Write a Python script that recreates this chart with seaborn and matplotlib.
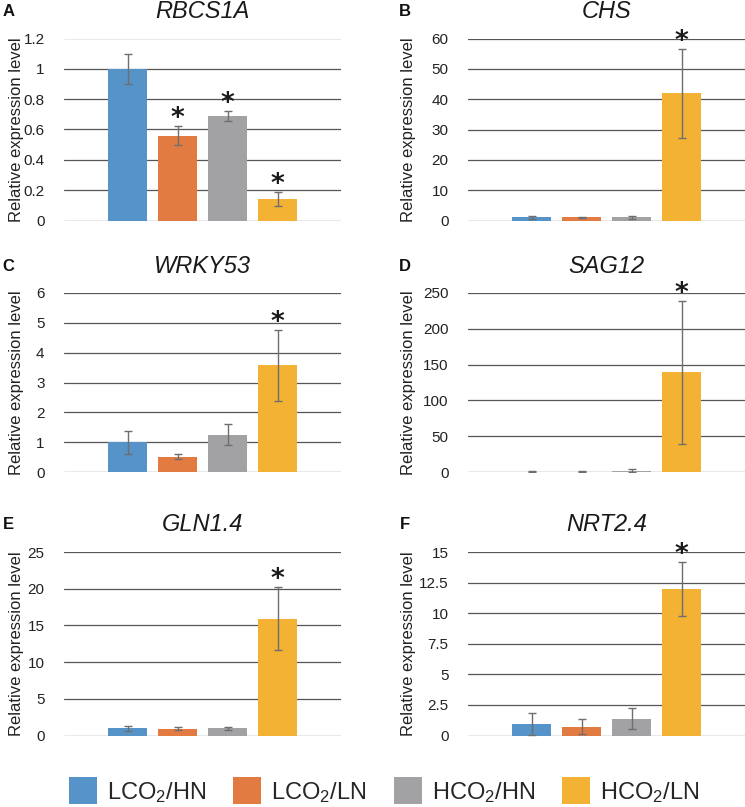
import numpy as np
import pandas as pd
import matplotlib
matplotlib.use("Agg")
import matplotlib.pyplot as plt
import seaborn as sns
from matplotlib.patches import Patch
from matplotlib.ticker import FuncFormatter, MultipleLocator

# ---------------------------------------------------------------
# Data
# ---------------------------------------------------------------
conditions = ["LCO$_2$/HN", "LCO$_2$/LN", "HCO$_2$/HN", "HCO$_2$/LN"]
colors = ["#5693C9", "#E27B42", "#A2A2A4", "#F3B234"]

genes = ["RBCS1A", "CHS", "WRKY53", "SAG12", "GLN1.4", "NRT2.4"]
letters = ["A", "B", "C", "D", "E", "F"]

rbcs1a = [1.0, 0.56, 0.69, 0.14]
rbcs1a_err = [0.10, 0.065, 0.035, 0.045]
chs = [1.0, 1.0, 1.0, 42.0]
chs_err = [0.6, 0.15, 0.5, 14.7]
wrky53 = [1.0, 0.51, 1.25, 3.57]
wrky53_err = [0.38, 0.08, 0.35, 1.18]
sag12 = [0.5, 0.5, 2.0, 139.0]
sag12_err = [0.3, 0.3, 2.2, 99.5]
gln14 = [0.96, 0.91, 0.96, 15.9]
gln14_err = [0.35, 0.2, 0.25, 4.3]
nrt24 = [0.93, 0.71, 1.37, 11.97]
nrt24_err = [0.9, 0.62, 0.85, 2.2]

values = [rbcs1a, chs, wrky53, sag12, gln14, nrt24]
errors = [rbcs1a_err, chs_err, wrky53_err, sag12_err, gln14_err, nrt24_err]

# which bars carry a significance star
stars = [
    [False, True, True, True],
    [False, False, False, True],
    [False, False, False, True],
    [False, False, False, True],
    [False, False, False, True],
    [False, False, False, True],
]

y_max = [1.2, 60, 6, 250, 25, 15]
y_step = [0.2, 10, 1, 50, 5, 2.5]

# ---------------------------------------------------------------
# Style
# ---------------------------------------------------------------
sns.set_style("white")
plt.rcParams["font.family"] = ["Liberation Sans", "DejaVu Sans"]
plt.rcParams["mathtext.default"] = "regular"

W, H = 745, 807
fig = plt.figure(figsize=(W / 100, H / 100), dpi=100)

# axes boxes in pixels: (left, top, right, bottom)
boxes = [
    (64, 38.5, 341, 220.5), (468, 38.5, 745, 220.5),
    (64, 293, 341, 472), (468, 293, 745, 472),
    (64, 552, 341, 735.5), (468, 552, 745, 735.5),
]

grid_col = "#555555"

for k in range(6):
    l, t, r, b = boxes[k]
    ax = fig.add_axes([l / W, 1 - b / H, (r - l) / W, (b - t) / H])
    df = pd.DataFrame({"cond": conditions, "val": values[k]})
    sns.barplot(data=df, x="cond", y="val", hue="cond", palette=colors,
                saturation=1, width=0.78, linewidth=0, legend=False, ax=ax,
                zorder=3)
    ax.errorbar(np.arange(4), values[k], yerr=errors[k], fmt="none",
                ecolor="#6e6e6e", elinewidth=1, capsize=3, capthick=1,
                zorder=4)

    for i in range(4):
        if stars[k][i]:
            ax.annotate("*", xy=(i, values[k][i] + errors[k][i]),
                        xytext=(0, 0), textcoords="offset points",
                        ha="center", va="baseline", fontsize=19,
                        fontweight="bold", family="DejaVu Sans",
                        color="#1a1a1a", annotation_clip=False, zorder=5)

    ax.set_xlim(-1.27, 4.27)
    ax.set_ylim(0, y_max[k])
    ax.yaxis.set_major_locator(MultipleLocator(y_step[k]))
    ax.yaxis.set_major_formatter(FuncFormatter(lambda v, p: "%g" % v))
    ax.grid(axis="y", color=grid_col, linewidth=0.9, zorder=0)
    ax.set_axisbelow(True)
    for s in ax.spines.values():
        s.set_visible(False)
    ax.set_xticks([])
    ax.set_xlabel("")
    ax.tick_params(axis="y", length=0, pad=14, labelsize=11,
                   labelcolor="#222222")

    xl = -0.145 if k % 2 == 0 else -0.188
    ax.set_ylabel("Relative expression level", fontsize=12, color="#222222")
    ax.yaxis.set_label_coords(xl, 0.5)

    ax.text(0.5, 1.15, genes[k], transform=ax.transAxes, ha="center",
            va="center", fontsize=17, style="italic", color="#1a1a1a")
    lx = -0.2 if k % 2 == 0 else -0.227
    ax.text(lx, 1.15, letters[k], transform=ax.transAxes, ha="center",
            va="center", fontsize=12, fontweight="bold", color="#111111")

# legend along the bottom
handles = [Patch(facecolor=c, edgecolor="none") for c in colors]
fig.legend(handles, conditions, loc="center", ncol=4, frameon=False,
           bbox_to_anchor=(384 / W, 1 - 791 / H), fontsize=17,
           handlelength=1.19, handleheight=1.35, handletextpad=0.42,
           columnspacing=1.15, borderpad=0)

fig.savefig("out.png", dpi=100)
